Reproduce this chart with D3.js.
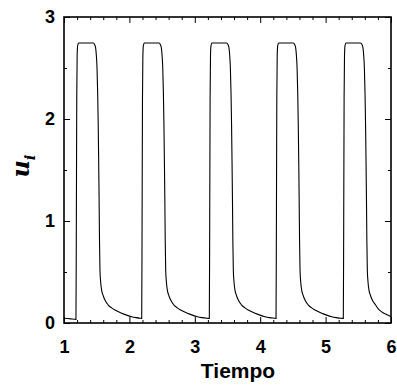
<!DOCTYPE html>
<html>
<head>
<meta charset="utf-8">
<script src="https://cdn.jsdelivr.net/npm/d3@7"></script>
<style>
  body { margin: 0; background: #fff; }
  .tick text { font-family: "Liberation Sans", Arial, sans-serif; font-weight: bold; font-size: 18px; fill: #000; }
  .domain { display: none; }
  .tick line { stroke: #000; stroke-width: 1; }
</style>
</head>
<body>
<svg width="397" height="385"></svg>
<script>
// values, one array per pulse: [tiempo, u_i]
var lead = [[1.000, 0.046], [1.100, 0.040]];
var pulse1 = [[1.183, 0.036], [1.189, 1.00], [1.195, 2.20], [1.201, 2.62], [1.209, 2.72], [1.223, 2.745],
    [1.448, 2.745], [1.468, 2.73], [1.483, 2.70], [1.495, 2.62], [1.505, 2.50], [1.515, 2.25], [1.523, 1.95],
    [1.530, 1.60], [1.537, 1.20], [1.543, 0.80], [1.550, 0.52], [1.561, 0.40], [1.576, 0.32], [1.598, 0.27],
    [1.626, 0.225], [1.677, 0.176], [1.728, 0.148], [1.779, 0.127], [1.882, 0.095], [1.958, 0.077],
    [2.035, 0.062], [2.103, 0.053], [2.160, 0.047]];
var pulse2 = [[2.188, 0.045], [2.194, 1.00], [2.200, 2.20], [2.206, 2.62], [2.214, 2.72], [2.228, 2.745],
    [2.453, 2.745], [2.473, 2.73], [2.488, 2.70], [2.500, 2.62], [2.510, 2.50], [2.520, 2.25], [2.528, 1.95],
    [2.535, 1.60], [2.542, 1.20], [2.548, 0.80], [2.555, 0.52], [2.566, 0.40], [2.581, 0.32], [2.603, 0.27],
    [2.631, 0.225], [2.682, 0.176], [2.733, 0.148], [2.784, 0.127], [2.887, 0.095], [2.963, 0.077],
    [3.040, 0.062], [3.108, 0.053], [3.190, 0.046]];
var pulse3 = [[3.222, 0.044], [3.228, 1.00], [3.234, 2.20], [3.240, 2.62], [3.248, 2.72], [3.262, 2.745],
    [3.487, 2.745], [3.507, 2.73], [3.522, 2.70], [3.534, 2.62], [3.544, 2.50], [3.554, 2.25], [3.562, 1.95],
    [3.569, 1.60], [3.576, 1.20], [3.582, 0.80], [3.589, 0.52], [3.600, 0.40], [3.615, 0.32], [3.637, 0.27],
    [3.665, 0.225], [3.716, 0.176], [3.767, 0.148], [3.818, 0.127], [3.921, 0.095], [3.997, 0.077],
    [4.074, 0.062], [4.142, 0.053], [4.215, 0.047]];
var pulse4 = [[4.242, 0.045], [4.248, 1.00], [4.254, 2.20], [4.260, 2.62], [4.268, 2.72], [4.282, 2.745],
    [4.507, 2.745], [4.527, 2.73], [4.542, 2.70], [4.554, 2.62], [4.564, 2.50], [4.574, 2.25], [4.582, 1.95],
    [4.589, 1.60], [4.596, 1.20], [4.602, 0.80], [4.609, 0.52], [4.620, 0.40], [4.635, 0.32], [4.657, 0.27],
    [4.685, 0.225], [4.736, 0.176], [4.787, 0.148], [4.838, 0.127], [4.941, 0.095], [5.017, 0.077],
    [5.094, 0.062], [5.162, 0.053], [5.245, 0.046]];
var pulse5 = [[5.271, 0.045], [5.277, 1.00], [5.283, 2.20], [5.289, 2.62], [5.297, 2.72], [5.311, 2.745],
    [5.536, 2.745], [5.556, 2.73], [5.571, 2.70], [5.583, 2.62], [5.593, 2.50], [5.603, 2.25], [5.611, 1.95],
    [5.618, 1.60], [5.625, 1.20], [5.631, 0.80], [5.638, 0.52], [5.649, 0.40], [5.664, 0.32], [5.686, 0.27],
    [5.714, 0.225], [5.765, 0.176], [5.816, 0.13], [5.867, 0.105], [5.940, 0.080], [6.000, 0.062]];

var xTicks = [1, 2, 3, 4, 5, 6];
var yTicks = [0, 1, 2, 3];

var margin = {left: 64, right: 6, top: 17, bottom: 62};
var width = 397 - margin.left - margin.right;
var height = 385 - margin.top - margin.bottom;

var svg = d3.select("svg");
var g = svg.append("g")
    .attr("transform", "translate(" + margin.left + "," + margin.top + ")");

var x = d3.scaleLinear().domain([1, 6]).range([0, width]);
var y = d3.scaleLinear().domain([0, 3]).range([height, 0]);

var xMinor = d3.range(1, 6.001, 0.2).filter(function (d) { return Math.abs(d - Math.round(d)) > 0.01; });
var yMinor = [0.5, 1.5, 2.5];

// minor ticks on all four sides
g.append("g").attr("transform", "translate(0," + height + ")")
    .call(d3.axisBottom(x).tickValues(xMinor).tickSize(-3).tickFormat(""));
g.append("g")
    .call(d3.axisTop(x).tickValues(xMinor).tickSize(-3).tickFormat(""));
g.append("g")
    .call(d3.axisLeft(y).tickValues(yMinor).tickSize(-3).tickFormat(""));
g.append("g").attr("transform", "translate(" + width + ",0)")
    .call(d3.axisRight(y).tickValues(yMinor).tickSize(-3).tickFormat(""));

// major ticks
g.append("g").attr("transform", "translate(0," + height + ")")
    .call(d3.axisBottom(x).tickValues(xTicks).tickSize(-6).tickPadding(17).tickFormat(d3.format("d")));
g.append("g")
    .call(d3.axisTop(x).tickValues(xTicks).tickSize(-6).tickFormat(""));
g.append("g")
    .call(d3.axisLeft(y).tickValues(yTicks).tickSize(-6).tickPadding(9).tickFormat(d3.format("d")));
g.append("g").attr("transform", "translate(" + width + ",0)")
    .call(d3.axisRight(y).tickValues(yTicks).tickSize(-6).tickFormat(""));

g.append("rect")
    .attr("width", width)
    .attr("height", height)
    .attr("fill", "none")
    .attr("stroke", "#000")
    .attr("stroke-width", 1.6);

var series = [].concat(lead, pulse1, pulse2, pulse3, pulse4, pulse5);

var line = d3.line()
    .x(function (d) { return x(d[0]); })
    .y(function (d) { return y(d[1]); })
    .curve(d3.curveMonotoneX);

g.append("path")
    .datum(series)
    .attr("fill", "none")
    .attr("stroke", "#000")
    .attr("stroke-width", 1.1)
    .attr("d", line);

// axis titles
svg.append("text")
    .attr("x", 238)
    .attr("y", 378)
    .attr("text-anchor", "middle")
    .style("font-family", "Liberation Sans, Arial, sans-serif")
    .style("font-weight", "bold")
    .style("font-size", "21px")
    .text("Tiempo");

var ylab = svg.append("text")
    .attr("transform", "translate(29,166) rotate(-90)")
    .attr("text-anchor", "middle")
    .style("font-family", "DejaVu Serif, serif")
    .style("font-style", "italic")
    .style("font-weight", "bold")
    .style("font-size", "24px");
ylab.append("tspan").text("u");
ylab.append("tspan").attr("dy", 6).style("font-size", "15px").text("i");
</script>
</body>
</html>
